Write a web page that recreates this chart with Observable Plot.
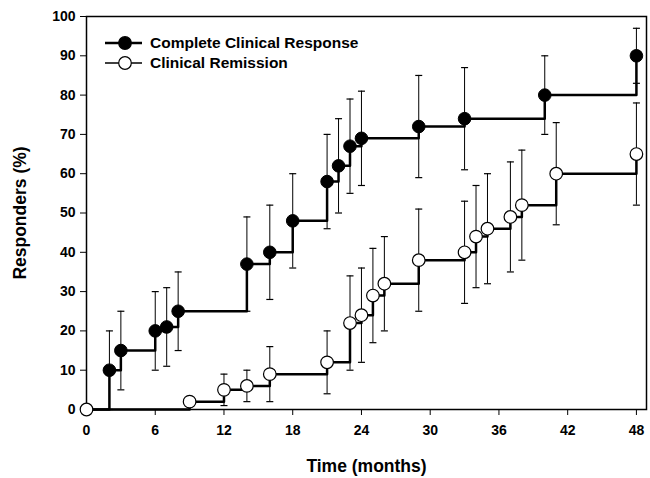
<!DOCTYPE html>
<html>
<head>
<meta charset="utf-8">
<script src="https://cdn.jsdelivr.net/npm/d3@7"></script>
<script src="https://cdn.jsdelivr.net/npm/@observablehq/plot@0.6"></script>
<style>
  html, body { margin: 0; padding: 0; background: #fff; }
  #chart { position: relative; width: 650px; height: 478px; }
  #chart svg { display: block; }
</style>
</head>
<body>
<div id="chart"></div>
<script>
// Complete Clinical Response (filled circles)
const ccrMonths = [2, 3, 6, 7, 8, 14, 16, 18, 21, 22, 23, 24, 29, 33, 40, 48];
const ccrPct    = [10, 15, 20, 21, 25, 37, 40, 48, 58, 62, 67, 69, 72, 74, 80, 90];
const ccrLo     = [0, 5, 10, 11, 15, 25, 28, 36, 46, 50, 55, 57, 59, 61, 70, 83];
const ccrHi     = [20, 25, 30, 31, 35, 49, 52, 60, 70, 74, 79, 81, 85, 87, 90, 97];

// Clinical Remission (open circles)
const crMonths = [0, 9, 12, 14, 16, 21, 23, 24, 25, 26, 29, 33, 34, 35, 37, 38, 41, 48];
const crPct    = [0, 2, 5, 6, 9, 12, 22, 24, 29, 32, 38, 40, 44, 46, 49, 52, 60, 65];
const crLo     = [null, null, 1, 2, 2, 4, 10, 12, 17, 20, 25, 27, 31, 32, 35, 38, 47, 52];
const crHi     = [null, null, 9, 10, 16, 20, 34, 36, 41, 44, 51, 53, 57, 60, 63, 66, 73, 78];

const xTicks = [0, 6, 12, 18, 24, 30, 36, 42, 48];
const yTicks = [0, 10, 20, 30, 40, 50, 60, 70, 80, 90, 100];

const seriesNames = ["Complete Clinical Response", "Clinical Remission"];
const xTitle = "Time (months)";
const yTitle = "Responders (%)";

const ccr = ccrMonths.map((m, i) => ({x: m, y: ccrPct[i], lo: ccrLo[i], hi: ccrHi[i]}));
const cr = crMonths.map((m, i) => ({x: m, y: crPct[i], lo: crLo[i], hi: crHi[i]}));
const ccrLine = [{x: 0, y: 0}, ...ccr];
const crBars = cr.filter(d => d.lo != null);

const cap = { draw(context, size) { const r = Math.sqrt(size / Math.PI); context.moveTo(-r, 0); context.lineTo(r, 0); } };

const font = "'Liberation Sans', Arial, Helvetica, sans-serif";

const chart = Plot.plot({
  width: 650,
  height: 478,
  marginLeft: 86,
  marginRight: 4,
  marginTop: 16,
  marginBottom: 69,
  style: { fontFamily: font, fontWeight: "bold", fontSize: "14px", color: "#000", background: "#fff" },
  x: { domain: [0, 48.88] },
  y: { domain: [0, 100] },
  marks: [
    Plot.frame({ stroke: "#000", strokeWidth: 1.5 }),
    Plot.axisX({ ticks: xTicks, tickSize: 6, tickPadding: 10, label: null, fontSize: 14, fontWeight: "bold" }),
    Plot.axisY({ ticks: yTicks, tickSize: 6, tickPadding: 5, label: null, fontSize: 14, fontWeight: "bold" }),
    // error bars
    Plot.ruleX(ccr, { x: "x", y1: "lo", y2: "hi", stroke: "#000", strokeWidth: 1 }),
    Plot.dot(ccr, { x: "x", y: "hi", symbol: cap, r: 3.5, stroke: "#000", strokeWidth: 1.2 }),
    Plot.dot(ccr, { x: "x", y: "lo", symbol: cap, r: 3.5, stroke: "#000", strokeWidth: 1.2 }),
    Plot.ruleX(crBars, { x: "x", y1: "lo", y2: "hi", stroke: "#000", strokeWidth: 1 }),
    Plot.dot(crBars, { x: "x", y: "hi", symbol: cap, r: 3.5, stroke: "#000", strokeWidth: 1.2 }),
    Plot.dot(crBars, { x: "x", y: "lo", symbol: cap, r: 3.5, stroke: "#000", strokeWidth: 1.2 }),
    // step lines
    Plot.line(ccrLine, { x: "x", y: "y", curve: "step-after", stroke: "#000", strokeWidth: 2.5 }),
    Plot.line(cr, { x: "x", y: "y", curve: "step-after", stroke: "#000", strokeWidth: 2.5 }),
    // markers
    Plot.dot(cr, { x: "x", y: "y", r: 6.3, fill: "#fff", stroke: "#000", strokeWidth: 1.2 }),
    Plot.dot(ccr, { x: "x", y: "y", r: 6.3, fill: "#000", stroke: "#000", strokeWidth: 1 }),
    // axis titles
    Plot.text([xTitle], { frameAnchor: "bottom", dy: 57, textAnchor: "middle", lineAnchor: "middle", fontSize: 17.5, fontWeight: "bold", text: d => d }),
    Plot.text([yTitle], { frameAnchor: "left", dx: -66, rotate: -90, textAnchor: "middle", lineAnchor: "middle", fontSize: 17.5, fontWeight: "bold", text: d => d })
  ]
});

document.getElementById("chart").appendChild(chart);

// legend
const svg = d3.select(chart);
const leg = svg.append("g").attr("font-family", font).attr("font-weight", "bold").attr("font-size", 15.5).attr("text-anchor", "start");
const legItems = [
  { name: seriesNames[0], fill: "#000", y: 43 },
  { name: seriesNames[1], fill: "#fff", y: 63 }
];
legItems.forEach(it => {
  leg.append("line").attr("x1", 105).attr("x2", 142).attr("y1", it.y).attr("y2", it.y)
    .attr("stroke", "#000").attr("stroke-width", it.fill === "#000" ? 2.5 : 1.5);
  leg.append("circle").attr("cx", 125).attr("cy", it.y).attr("r", 6.3)
    .attr("fill", it.fill).attr("stroke", "#000").attr("stroke-width", 1.2);
  leg.append("text").attr("x", 150).attr("y", it.y).attr("dy", "0.35em").attr("fill", "#000").attr("text-anchor", "start").text(it.name);
});
</script>
</body>
</html>
